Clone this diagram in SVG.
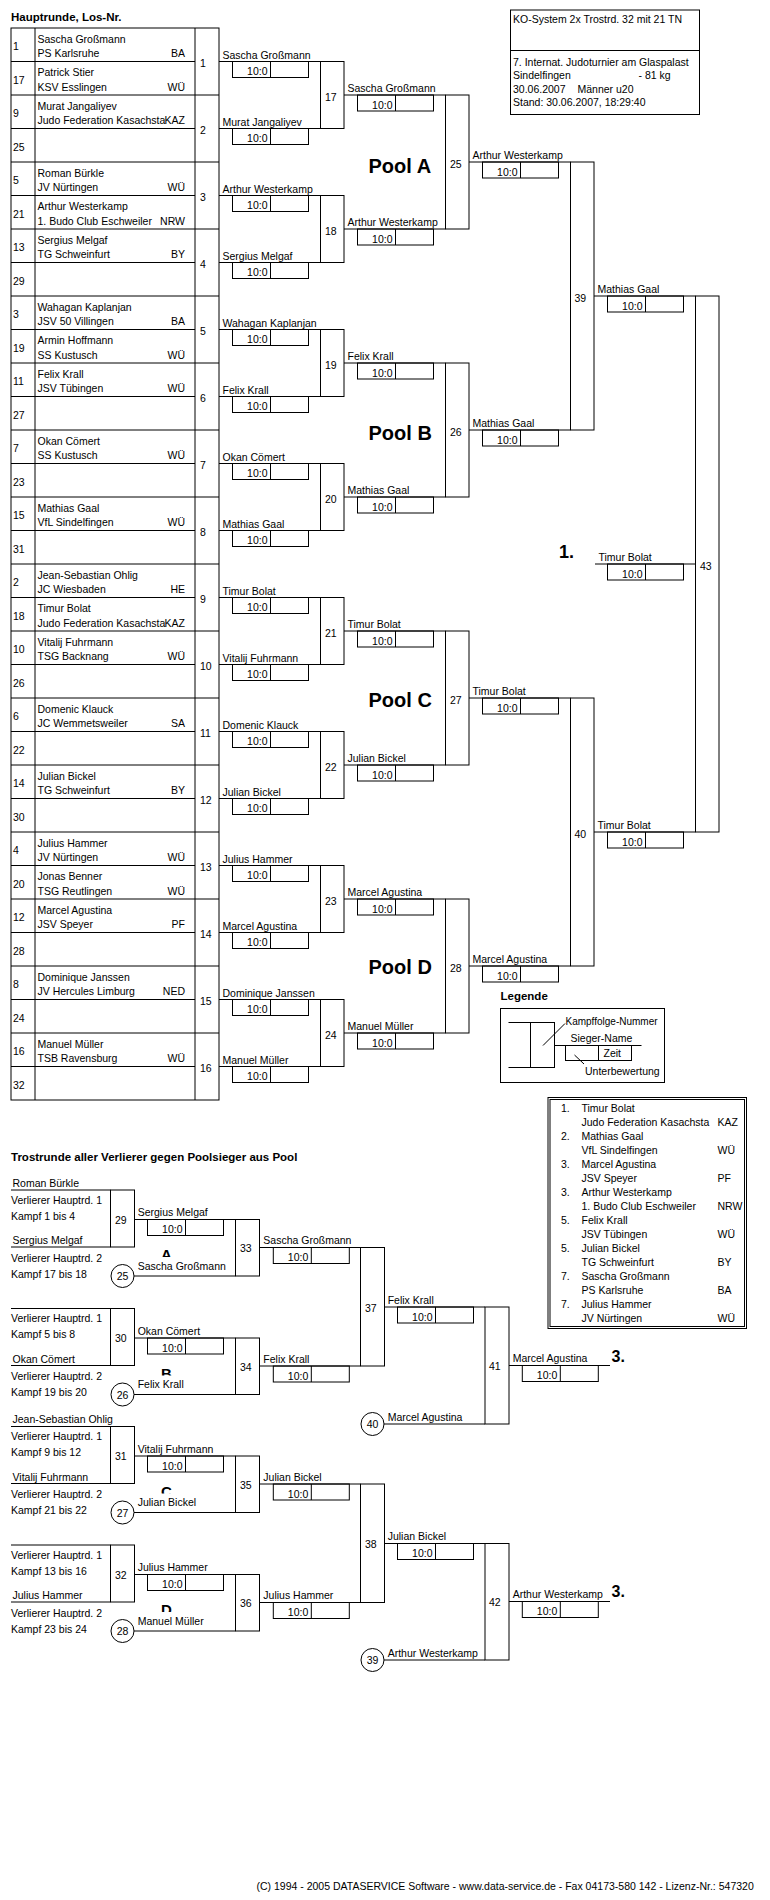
<svg xmlns="http://www.w3.org/2000/svg" xmlns:xlink="http://www.w3.org/1999/xlink" width="770" height="1900" viewBox="0 0 770 1900">
<style>
text{font-family:"Liberation Sans",Arial,sans-serif;font-size:10.5px;fill:#000}
.h{font-size:11.5px;font-weight:bold}
.pool{font-size:20px;font-weight:bold}
.rk{font-size:18px;font-weight:bold}
.r3{font-size:16px;font-weight:bold}
.lt{font-size:15px;font-weight:bold}
.sm{font-size:10px}
.e{text-anchor:end}
.m{text-anchor:middle}
rect,line,circle{fill:none;stroke:#000;stroke-width:1}
</style>
<defs>
<g id="sb"><rect width="76" height="16" fill="none" stroke="#000"/><line x1="38" y1="0" x2="38" y2="16" stroke="#000"/><text x="35" y="13.5" text-anchor="end" font-family="Liberation Sans, Arial, sans-serif" font-size="10.5">10:0</text></g>
<clipPath id="cA"><rect x="155" y="1240" width="30" height="17"/></clipPath>
<clipPath id="cB"><rect x="155" y="1358.5" width="30" height="17"/></clipPath>
<clipPath id="cC"><rect x="155" y="1476.5" width="30" height="17"/></clipPath>
<clipPath id="cD"><rect x="155" y="1595" width="30" height="17"/></clipPath>
</defs>
<rect x="0" y="0" width="770" height="1900" style="fill:#fff;stroke:none"/>

<text id="title-main" class="h" x="11" y="21">Hauptrunde, Los-Nr.</text>

<g id="header">
<rect x="510.5" y="10" width="189" height="104.5"/>
<line x1="510.5" y1="50.5" x2="699.5" y2="50.5"/>
<text x="513" y="22.5">KO-System 2x Trostrd. 32 mit 21 TN</text>
<text x="513" y="65.5">7. Internat. Judoturnier am Glaspalast</text>
<text x="513" y="79">Sindelfingen</text>
<text x="638.5" y="79">- 81 kg</text>
<text x="513" y="92.5">30.06.2007</text>
<text x="577.5" y="92.5">Männer u20</text>
<text x="513" y="106">Stand: 30.06.2007, 18:29:40</text>
</g>

<g id="draw-table">
<rect x="11" y="28" width="208" height="1072"/>
<line x1="35" y1="28" x2="35" y2="1100"/>
<line x1="195" y1="28" x2="195" y2="1100"/>
<line x1="11" y1="61.5" x2="195" y2="61.5"/><line x1="11" y1="95" x2="219" y2="95"/>
<line x1="11" y1="128.5" x2="195" y2="128.5"/><line x1="11" y1="162" x2="219" y2="162"/>
<line x1="11" y1="195.5" x2="195" y2="195.5"/><line x1="11" y1="229" x2="219" y2="229"/>
<line x1="11" y1="262.5" x2="195" y2="262.5"/><line x1="11" y1="296" x2="219" y2="296"/>
<line x1="11" y1="329.5" x2="195" y2="329.5"/><line x1="11" y1="363" x2="219" y2="363"/>
<line x1="11" y1="396.5" x2="195" y2="396.5"/><line x1="11" y1="430" x2="219" y2="430"/>
<line x1="11" y1="463.5" x2="195" y2="463.5"/><line x1="11" y1="497" x2="219" y2="497"/>
<line x1="11" y1="530.5" x2="195" y2="530.5"/><line x1="11" y1="564" x2="219" y2="564"/>
<line x1="11" y1="597.5" x2="195" y2="597.5"/><line x1="11" y1="631" x2="219" y2="631"/>
<line x1="11" y1="664.5" x2="195" y2="664.5"/><line x1="11" y1="698" x2="219" y2="698"/>
<line x1="11" y1="731.5" x2="195" y2="731.5"/><line x1="11" y1="765" x2="219" y2="765"/>
<line x1="11" y1="798.5" x2="195" y2="798.5"/><line x1="11" y1="832" x2="219" y2="832"/>
<line x1="11" y1="865.5" x2="195" y2="865.5"/><line x1="11" y1="899" x2="219" y2="899"/>
<line x1="11" y1="932.5" x2="195" y2="932.5"/><line x1="11" y1="966" x2="219" y2="966"/>
<line x1="11" y1="999.5" x2="195" y2="999.5"/><line x1="11" y1="1033" x2="219" y2="1033"/>
<line x1="11" y1="1066.5" x2="195" y2="1066.5"/>
</g>

<g id="entries">
<g id="los-1"><text x="13" y="50">1</text><text x="37.5" y="42.5">Sascha Großmann</text><text x="37.5" y="57">PS Karlsruhe</text><text class="e" x="185" y="57">BA</text></g>
<g id="los-17"><text x="13" y="83.5">17</text><text x="37.5" y="76">Patrick Stier</text><text x="37.5" y="90.5">KSV Esslingen</text><text class="e" x="185" y="90.5">WÜ</text></g>
<g id="los-9"><text x="13" y="117">9</text><text x="37.5" y="109.5">Murat Jangaliyev</text><text x="37.5" y="124">Judo Federation Kasachsta</text><text class="e" x="185" y="124">KAZ</text></g>
<g id="los-25"><text x="13" y="150.5">25</text></g>
<g id="los-5"><text x="13" y="184">5</text><text x="37.5" y="176.5">Roman Bürkle</text><text x="37.5" y="191">JV Nürtingen</text><text class="e" x="185" y="191">WÜ</text></g>
<g id="los-21"><text x="13" y="217.5">21</text><text x="37.5" y="210">Arthur Westerkamp</text><text x="37.5" y="224.5">1. Budo Club Eschweiler</text><text class="e" x="185" y="224.5">NRW</text></g>
<g id="los-13"><text x="13" y="251">13</text><text x="37.5" y="243.5">Sergius Melgaf</text><text x="37.5" y="258">TG Schweinfurt</text><text class="e" x="185" y="258">BY</text></g>
<g id="los-29"><text x="13" y="284.5">29</text></g>
<g id="los-3"><text x="13" y="318">3</text><text x="37.5" y="310.5">Wahagan Kaplanjan</text><text x="37.5" y="325">JSV 50 Villingen</text><text class="e" x="185" y="325">BA</text></g>
<g id="los-19"><text x="13" y="351.5">19</text><text x="37.5" y="344">Armin Hoffmann</text><text x="37.5" y="358.5">SS Kustusch</text><text class="e" x="185" y="358.5">WÜ</text></g>
<g id="los-11"><text x="13" y="385">11</text><text x="37.5" y="377.5">Felix Krall</text><text x="37.5" y="392">JSV Tübingen</text><text class="e" x="185" y="392">WÜ</text></g>
<g id="los-27"><text x="13" y="418.5">27</text></g>
<g id="los-7"><text x="13" y="452">7</text><text x="37.5" y="444.5">Okan Cömert</text><text x="37.5" y="459">SS Kustusch</text><text class="e" x="185" y="459">WÜ</text></g>
<g id="los-23"><text x="13" y="485.5">23</text></g>
<g id="los-15"><text x="13" y="519">15</text><text x="37.5" y="511.5">Mathias Gaal</text><text x="37.5" y="526">VfL Sindelfingen</text><text class="e" x="185" y="526">WÜ</text></g>
<g id="los-31"><text x="13" y="552.5">31</text></g>
<g id="los-2"><text x="13" y="586">2</text><text x="37.5" y="578.5">Jean-Sebastian Ohlig</text><text x="37.5" y="593">JC Wiesbaden</text><text class="e" x="185" y="593">HE</text></g>
<g id="los-18"><text x="13" y="619.5">18</text><text x="37.5" y="612">Timur Bolat</text><text x="37.5" y="626.5">Judo Federation Kasachsta</text><text class="e" x="185" y="626.5">KAZ</text></g>
<g id="los-10"><text x="13" y="653">10</text><text x="37.5" y="645.5">Vitalij Fuhrmann</text><text x="37.5" y="660">TSG Backnang</text><text class="e" x="185" y="660">WÜ</text></g>
<g id="los-26"><text x="13" y="686.5">26</text></g>
<g id="los-6"><text x="13" y="720">6</text><text x="37.5" y="712.5">Domenic Klauck</text><text x="37.5" y="727">JC Wemmetsweiler</text><text class="e" x="185" y="727">SA</text></g>
<g id="los-22"><text x="13" y="753.5">22</text></g>
<g id="los-14"><text x="13" y="787">14</text><text x="37.5" y="779.5">Julian Bickel</text><text x="37.5" y="794">TG Schweinfurt</text><text class="e" x="185" y="794">BY</text></g>
<g id="los-30"><text x="13" y="820.5">30</text></g>
<g id="los-4"><text x="13" y="854">4</text><text x="37.5" y="846.5">Julius Hammer</text><text x="37.5" y="861">JV Nürtingen</text><text class="e" x="185" y="861">WÜ</text></g>
<g id="los-20"><text x="13" y="887.5">20</text><text x="37.5" y="880">Jonas Benner</text><text x="37.5" y="894.5">TSG Reutlingen</text><text class="e" x="185" y="894.5">WÜ</text></g>
<g id="los-12"><text x="13" y="921">12</text><text x="37.5" y="913.5">Marcel Agustina</text><text x="37.5" y="928">JSV Speyer</text><text class="e" x="185" y="928">PF</text></g>
<g id="los-28"><text x="13" y="954.5">28</text></g>
<g id="los-8"><text x="13" y="988">8</text><text x="37.5" y="980.5">Dominique Janssen</text><text x="37.5" y="995">JV Hercules Limburg</text><text class="e" x="185" y="995">NED</text></g>
<g id="los-24"><text x="13" y="1021.5">24</text></g>
<g id="los-16"><text x="13" y="1055">16</text><text x="37.5" y="1047.5">Manuel Müller</text><text x="37.5" y="1062">TSB Ravensburg</text><text class="e" x="185" y="1062">WÜ</text></g>
<g id="los-32"><text x="13" y="1088.5">32</text></g>
</g>

<g id="round1">
<g id="f1"><text x="200" y="66.5">1</text><text x="222.5" y="58.5">Sascha Großmann</text><use xlink:href="#sb" x="232.5" y="61.5"/></g>
<g id="f2"><text x="200" y="133.5">2</text><text x="222.5" y="125.5">Murat Jangaliyev</text><use xlink:href="#sb" x="232.5" y="128.5"/></g>
<g id="f3"><text x="200" y="200.5">3</text><text x="222.5" y="192.5">Arthur Westerkamp</text><use xlink:href="#sb" x="232.5" y="195.5"/></g>
<g id="f4"><text x="200" y="267.5">4</text><text x="222.5" y="259.5">Sergius Melgaf</text><use xlink:href="#sb" x="232.5" y="262.5"/></g>
<g id="f5"><text x="200" y="334.5">5</text><text x="222.5" y="326.5">Wahagan Kaplanjan</text><use xlink:href="#sb" x="232.5" y="329.5"/></g>
<g id="f6"><text x="200" y="401.5">6</text><text x="222.5" y="393.5">Felix Krall</text><use xlink:href="#sb" x="232.5" y="396.5"/></g>
<g id="f7"><text x="200" y="468.5">7</text><text x="222.5" y="460.5">Okan Cömert</text><use xlink:href="#sb" x="232.5" y="463.5"/></g>
<g id="f8"><text x="200" y="535.5">8</text><text x="222.5" y="527.5">Mathias Gaal</text><use xlink:href="#sb" x="232.5" y="530.5"/></g>
<g id="f9"><text x="200" y="602.5">9</text><text x="222.5" y="594.5">Timur Bolat</text><use xlink:href="#sb" x="232.5" y="597.5"/></g>
<g id="f10"><text x="200" y="669.5">10</text><text x="222.5" y="661.5">Vitalij Fuhrmann</text><use xlink:href="#sb" x="232.5" y="664.5"/></g>
<g id="f11"><text x="200" y="736.5">11</text><text x="222.5" y="728.5">Domenic Klauck</text><use xlink:href="#sb" x="232.5" y="731.5"/></g>
<g id="f12"><text x="200" y="803.5">12</text><text x="222.5" y="795.5">Julian Bickel</text><use xlink:href="#sb" x="232.5" y="798.5"/></g>
<g id="f13"><text x="200" y="870.5">13</text><text x="222.5" y="862.5">Julius Hammer</text><use xlink:href="#sb" x="232.5" y="865.5"/></g>
<g id="f14"><text x="200" y="937.5">14</text><text x="222.5" y="929.5">Marcel Agustina</text><use xlink:href="#sb" x="232.5" y="932.5"/></g>
<g id="f15"><text x="200" y="1004.5">15</text><text x="222.5" y="996.5">Dominique Janssen</text><use xlink:href="#sb" x="232.5" y="999.5"/></g>
<g id="f16"><text x="200" y="1071.5">16</text><text x="222.5" y="1063.5">Manuel Müller</text><use xlink:href="#sb" x="232.5" y="1066.5"/></g>
</g>

<g id="round2">
<g id="f17"><rect x="320.5" y="61.5" width="23.5" height="67"/><text x="325" y="100.5">17</text><text x="347.5" y="92">Sascha Großmann</text><use xlink:href="#sb" x="357.5" y="95"/></g>
<g id="f18"><rect x="320.5" y="195.5" width="23.5" height="67"/><text x="325" y="234.5">18</text><text x="347.5" y="226">Arthur Westerkamp</text><use xlink:href="#sb" x="357.5" y="229"/></g>
<g id="f19"><rect x="320.5" y="329.5" width="23.5" height="67"/><text x="325" y="368.5">19</text><text x="347.5" y="360">Felix Krall</text><use xlink:href="#sb" x="357.5" y="363"/></g>
<g id="f20"><rect x="320.5" y="463.5" width="23.5" height="67"/><text x="325" y="502.5">20</text><text x="347.5" y="494">Mathias Gaal</text><use xlink:href="#sb" x="357.5" y="497"/></g>
<g id="f21"><rect x="320.5" y="597.5" width="23.5" height="67"/><text x="325" y="636.5">21</text><text x="347.5" y="628">Timur Bolat</text><use xlink:href="#sb" x="357.5" y="631"/></g>
<g id="f22"><rect x="320.5" y="731.5" width="23.5" height="67"/><text x="325" y="770.5">22</text><text x="347.5" y="762">Julian Bickel</text><use xlink:href="#sb" x="357.5" y="765"/></g>
<g id="f23"><rect x="320.5" y="865.5" width="23.5" height="67"/><text x="325" y="904.5">23</text><text x="347.5" y="896">Marcel Agustina</text><use xlink:href="#sb" x="357.5" y="899"/></g>
<g id="f24"><rect x="320.5" y="999.5" width="23.5" height="67"/><text x="325" y="1038.5">24</text><text x="347.5" y="1030">Manuel Müller</text><use xlink:href="#sb" x="357.5" y="1033"/></g>
</g>

<g id="round3">
<g id="f25"><rect x="445.5" y="95" width="23.5" height="134"/><text x="450" y="167.5">25</text><text x="472.5" y="159">Arthur Westerkamp</text><use xlink:href="#sb" x="482.5" y="162"/></g>
<g id="f26"><rect x="445.5" y="363" width="23.5" height="134"/><text x="450" y="435.5">26</text><text x="472.5" y="427">Mathias Gaal</text><use xlink:href="#sb" x="482.5" y="430"/></g>
<g id="f27"><rect x="445.5" y="631" width="23.5" height="134"/><text x="450" y="703.5">27</text><text x="472.5" y="695">Timur Bolat</text><use xlink:href="#sb" x="482.5" y="698"/></g>
<g id="f28"><rect x="445.5" y="899" width="23.5" height="134"/><text x="450" y="971.5">28</text><text x="472.5" y="963">Marcel Agustina</text><use xlink:href="#sb" x="482.5" y="966"/></g>
</g>

<g id="round4">
<g id="f39"><rect x="570.5" y="162" width="23.5" height="268"/><text x="574.5" y="301.5">39</text><text x="597.5" y="293">Mathias Gaal</text><use xlink:href="#sb" x="607.5" y="296"/></g>
<g id="f40"><rect x="570.5" y="698" width="23.5" height="268"/><text x="574.5" y="837.5">40</text><text x="597.5" y="829">Timur Bolat</text><use xlink:href="#sb" x="607.5" y="832"/></g>
<g id="f43"><rect x="695.5" y="296" width="23.5" height="536"/><text x="700" y="569.5">43</text><text x="598.5" y="561">Timur Bolat</text><use xlink:href="#sb" x="607.5" y="564"/><text class="rk" x="559" y="557.5">1.</text></g>
</g>

<g id="pools">
<text class="pool" x="368.5" y="173">Pool A</text>
<text class="pool" x="368.5" y="440">Pool B</text>
<text class="pool" x="368.5" y="707">Pool C</text>
<text class="pool" x="368.5" y="974">Pool D</text>
</g>

<g id="connectors">
<line x1="219" y1="61.5" x2="320.5" y2="61.5"/><line x1="219" y1="128.5" x2="320.5" y2="128.5"/>
<line x1="219" y1="195.5" x2="320.5" y2="195.5"/><line x1="219" y1="262.5" x2="320.5" y2="262.5"/>
<line x1="219" y1="329.5" x2="320.5" y2="329.5"/><line x1="219" y1="396.5" x2="320.5" y2="396.5"/>
<line x1="219" y1="463.5" x2="320.5" y2="463.5"/><line x1="219" y1="530.5" x2="320.5" y2="530.5"/>
<line x1="219" y1="597.5" x2="320.5" y2="597.5"/><line x1="219" y1="664.5" x2="320.5" y2="664.5"/>
<line x1="219" y1="731.5" x2="320.5" y2="731.5"/><line x1="219" y1="798.5" x2="320.5" y2="798.5"/>
<line x1="219" y1="865.5" x2="320.5" y2="865.5"/><line x1="219" y1="932.5" x2="320.5" y2="932.5"/>
<line x1="219" y1="999.5" x2="320.5" y2="999.5"/><line x1="219" y1="1066.5" x2="320.5" y2="1066.5"/>
<line x1="344" y1="95" x2="445.5" y2="95"/><line x1="344" y1="229" x2="445.5" y2="229"/>
<line x1="344" y1="363" x2="445.5" y2="363"/><line x1="344" y1="497" x2="445.5" y2="497"/>
<line x1="344" y1="631" x2="445.5" y2="631"/><line x1="344" y1="765" x2="445.5" y2="765"/>
<line x1="344" y1="899" x2="445.5" y2="899"/><line x1="344" y1="1033" x2="445.5" y2="1033"/>
<line x1="469" y1="162" x2="570.5" y2="162"/><line x1="469" y1="430" x2="570.5" y2="430"/>
<line x1="469" y1="698" x2="570.5" y2="698"/><line x1="469" y1="966" x2="570.5" y2="966"/>
<line x1="594" y1="296" x2="695.5" y2="296"/><line x1="594" y1="832" x2="695.5" y2="832"/>
<line x1="595" y1="564" x2="695.5" y2="564"/>
<line x1="11" y1="1190" x2="110.5" y2="1190"/><line x1="11" y1="1247" x2="110.5" y2="1247"/>
<line x1="134.5" y1="1219.5" x2="235.5" y2="1219.5"/><line x1="134" y1="1276" x2="235.5" y2="1276"/>
<line x1="11" y1="1308.5" x2="110.5" y2="1308.5"/><line x1="11" y1="1365.5" x2="110.5" y2="1365.5"/>
<line x1="134.5" y1="1338" x2="235.5" y2="1338"/><line x1="134" y1="1394.5" x2="235.5" y2="1394.5"/>
<line x1="11" y1="1426.5" x2="110.5" y2="1426.5"/><line x1="11" y1="1483.5" x2="110.5" y2="1483.5"/>
<line x1="134.5" y1="1456" x2="235.5" y2="1456"/><line x1="134" y1="1512.5" x2="235.5" y2="1512.5"/>
<line x1="11" y1="1545" x2="110.5" y2="1545"/><line x1="11" y1="1602" x2="110.5" y2="1602"/>
<line x1="134.5" y1="1574.5" x2="235.5" y2="1574.5"/><line x1="134" y1="1631" x2="235.5" y2="1631"/>
<line x1="259.5" y1="1247.5" x2="360.5" y2="1247.5"/><line x1="259.5" y1="1366" x2="360.5" y2="1366"/>
<line x1="259.5" y1="1484" x2="360.5" y2="1484"/><line x1="259.5" y1="1602.5" x2="360.5" y2="1602.5"/>
<line x1="384.5" y1="1307" x2="485" y2="1307"/><line x1="384" y1="1424" x2="485" y2="1424"/>
<line x1="384.5" y1="1543.5" x2="485" y2="1543.5"/><line x1="384" y1="1660" x2="485" y2="1660"/>
<line x1="509" y1="1365.5" x2="610" y2="1365.5"/><line x1="509" y1="1601.5" x2="610" y2="1601.5"/>
</g>

<g id="legend">
<text class="h" x="500.5" y="1000">Legende</text>
<rect x="500.5" y="1008.5" width="164" height="74"/>
<line x1="508.5" y1="1022.5" x2="530.5" y2="1022.5"/>
<line x1="508.5" y1="1067.5" x2="530.5" y2="1067.5"/>
<rect x="530.5" y="1022.5" width="24" height="45"/>
<line x1="554.5" y1="1045.5" x2="641.5" y2="1045.5"/>
<rect x="565.5" y="1045.5" width="66" height="15"/>
<line x1="598.5" y1="1045.5" x2="598.5" y2="1060.5"/>
<text x="603.5" y="1057">Zeit</text>
<text class="sm" x="565.5" y="1024.5">Kampffolge-Nummer</text>
<line x1="543" y1="1045.5" x2="565" y2="1023.5"/>
<text x="570.5" y="1041.5">Sieger-Name</text>
<line x1="574.5" y1="1055" x2="584" y2="1064"/>
<text x="585" y="1075">Unterbewertung</text>
</g>

<g id="ranking">
<rect x="548" y="1097.5" width="198.5" height="231"/>
<rect x="550" y="1099.5" width="194.5" height="227"/>
<text x="561" y="1112">1.</text><text x="581.5" y="1112">Timur Bolat</text>
<text x="581.5" y="1126">Judo Federation Kasachsta</text><text x="717.5" y="1126">KAZ</text>
<text x="561" y="1140">2.</text><text x="581.5" y="1140">Mathias Gaal</text>
<text x="581.5" y="1154">VfL Sindelfingen</text><text x="717.5" y="1154">WÜ</text>
<text x="561" y="1168">3.</text><text x="581.5" y="1168">Marcel Agustina</text>
<text x="581.5" y="1182">JSV Speyer</text><text x="717.5" y="1182">PF</text>
<text x="561" y="1196">3.</text><text x="581.5" y="1196">Arthur Westerkamp</text>
<text x="581.5" y="1210">1. Budo Club Eschweiler</text><text x="717.5" y="1210">NRW</text>
<text x="561" y="1224">5.</text><text x="581.5" y="1224">Felix Krall</text>
<text x="581.5" y="1238">JSV Tübingen</text><text x="717.5" y="1238">WÜ</text>
<text x="561" y="1252">5.</text><text x="581.5" y="1252">Julian Bickel</text>
<text x="581.5" y="1266">TG Schweinfurt</text><text x="717.5" y="1266">BY</text>
<text x="561" y="1280">7.</text><text x="581.5" y="1280">Sascha Großmann</text>
<text x="581.5" y="1294">PS Karlsruhe</text><text x="717.5" y="1294">BA</text>
<text x="561" y="1308">7.</text><text x="581.5" y="1308">Julius Hammer</text>
<text x="581.5" y="1322">JV Nürtingen</text><text x="717.5" y="1322">WÜ</text>
</g>

<text id="title-trost" class="h" x="11" y="1160.5">Trostrunde aller Verlierer gegen Poolsieger aus Pool</text>

<g id="trost-A">
<text x="12.5" y="1186.5">Roman Bürkle</text>
<text x="11" y="1203.5">Verlierer Hauptrd. 1</text><text x="11" y="1219.5">Kampf 1 bis 4</text>
<rect x="110.5" y="1190" width="24" height="57"/><text x="115" y="1223.5">29</text>
<text x="12.5" y="1244">Sergius Melgaf</text>
<text x="11" y="1261.5">Verlierer Hauptrd. 2</text><text x="11" y="1277.5">Kampf 17 bis 18</text>
<circle cx="122.5" cy="1276" r="11.5"/><text class="m" x="122.5" y="1280">25</text>
<text x="137.7" y="1216">Sergius Melgaf</text><use xlink:href="#sb" x="147.5" y="1219.5"/>
<text class="lt" x="161" y="1260" clip-path="url(#cA)">A</text>
<text x="137.7" y="1269.5">Sascha Großmann</text>
<rect x="235.5" y="1219.5" width="24" height="56.5"/><text x="240" y="1252">33</text>
<text x="263.3" y="1244">Sascha Großmann</text><use xlink:href="#sb" x="273.3" y="1247.5"/>
</g>

<g id="trost-B">
<text x="11" y="1322">Verlierer Hauptrd. 1</text><text x="11" y="1338">Kampf 5 bis 8</text>
<rect x="110.5" y="1308.5" width="24" height="57"/><text x="115" y="1342">30</text>
<text x="12.5" y="1362.5">Okan Cömert</text>
<text x="11" y="1380">Verlierer Hauptrd. 2</text><text x="11" y="1396">Kampf 19 bis 20</text>
<circle cx="122.5" cy="1394.5" r="11.5"/><text class="m" x="122.5" y="1398.5">26</text>
<text x="137.7" y="1334.5">Okan Cömert</text><use xlink:href="#sb" x="147.5" y="1338"/>
<text class="lt" x="161" y="1378.5" clip-path="url(#cB)">B</text>
<text x="137.7" y="1388">Felix Krall</text>
<rect x="235.5" y="1338" width="24" height="56.5"/><text x="240" y="1370.5">34</text>
<text x="263.3" y="1362.5">Felix Krall</text><use xlink:href="#sb" x="273.3" y="1366"/>
</g>

<g id="trost-C">
<text x="12.5" y="1423">Jean-Sebastian Ohlig</text>
<text x="11" y="1440">Verlierer Hauptrd. 1</text><text x="11" y="1456">Kampf 9 bis 12</text>
<rect x="110.5" y="1426.5" width="24" height="57"/><text x="115" y="1460">31</text>
<text x="12.5" y="1480.5">Vitalij Fuhrmann</text>
<text x="11" y="1498">Verlierer Hauptrd. 2</text><text x="11" y="1514">Kampf 21 bis 22</text>
<circle cx="122.5" cy="1512.5" r="11.5"/><text class="m" x="122.5" y="1516.5">27</text>
<text x="137.7" y="1452.5">Vitalij Fuhrmann</text><use xlink:href="#sb" x="147.5" y="1456"/>
<text class="lt" x="161" y="1496.5" clip-path="url(#cC)">C</text>
<text x="137.7" y="1506">Julian Bickel</text>
<rect x="235.5" y="1456" width="24" height="56.5"/><text x="240" y="1488.5">35</text>
<text x="263.3" y="1480.5">Julian Bickel</text><use xlink:href="#sb" x="273.3" y="1484"/>
</g>

<g id="trost-D">
<text x="11" y="1558.5">Verlierer Hauptrd. 1</text><text x="11" y="1574.5">Kampf 13 bis 16</text>
<rect x="110.5" y="1545" width="24" height="57"/><text x="115" y="1578.5">32</text>
<text x="12.5" y="1599">Julius Hammer</text>
<text x="11" y="1616.5">Verlierer Hauptrd. 2</text><text x="11" y="1632.5">Kampf 23 bis 24</text>
<circle cx="122.5" cy="1631" r="11.5"/><text class="m" x="122.5" y="1635">28</text>
<text x="137.7" y="1571">Julius Hammer</text><use xlink:href="#sb" x="147.5" y="1574.5"/>
<text class="lt" x="161" y="1615" clip-path="url(#cD)">D</text>
<text x="137.7" y="1624.5">Manuel Müller</text>
<rect x="235.5" y="1574.5" width="24" height="56.5"/><text x="240" y="1607">36</text>
<text x="263.3" y="1599">Julius Hammer</text><use xlink:href="#sb" x="273.3" y="1602.5"/>
</g>

<g id="f37"><rect x="360.5" y="1247.5" width="24" height="118.5"/><text x="365" y="1311.5">37</text>
<text x="387.7" y="1303.5">Felix Krall</text><use xlink:href="#sb" x="397.5" y="1307"/></g>
<g id="f38"><rect x="360.5" y="1484" width="24" height="118.5"/><text x="365" y="1548">38</text>
<text x="387.7" y="1540">Julian Bickel</text><use xlink:href="#sb" x="397.5" y="1543.5"/></g>
<g id="c40"><circle cx="372.5" cy="1424" r="11.5"/><text class="m" x="372.5" y="1428">40</text><text x="387.7" y="1420.5">Marcel Agustina</text></g>
<g id="c39"><circle cx="372.5" cy="1660" r="11.5"/><text class="m" x="372.5" y="1664">39</text><text x="387.7" y="1656.5">Arthur Westerkamp</text></g>
<g id="f41"><rect x="485" y="1307" width="24" height="117"/><text x="489" y="1370">41</text>
<text x="512.7" y="1362">Marcel Agustina</text><use xlink:href="#sb" x="522.3" y="1365.5"/><text class="r3" x="611.5" y="1361.5">3.</text></g>
<g id="f42"><rect x="485" y="1543.5" width="24" height="116.5"/><text x="489" y="1606">42</text>
<text x="512.7" y="1598">Arthur Westerkamp</text><use xlink:href="#sb" x="522.3" y="1601.5"/><text class="r3" x="611.5" y="1597">3.</text></g>

<text id="copyright" x="256.5" y="1890">(C) 1994 - 2005 DATASERVICE Software - www.data-service.de - Fax 04173-580 142 - Lizenz-Nr.: 547320</text>
</svg>
